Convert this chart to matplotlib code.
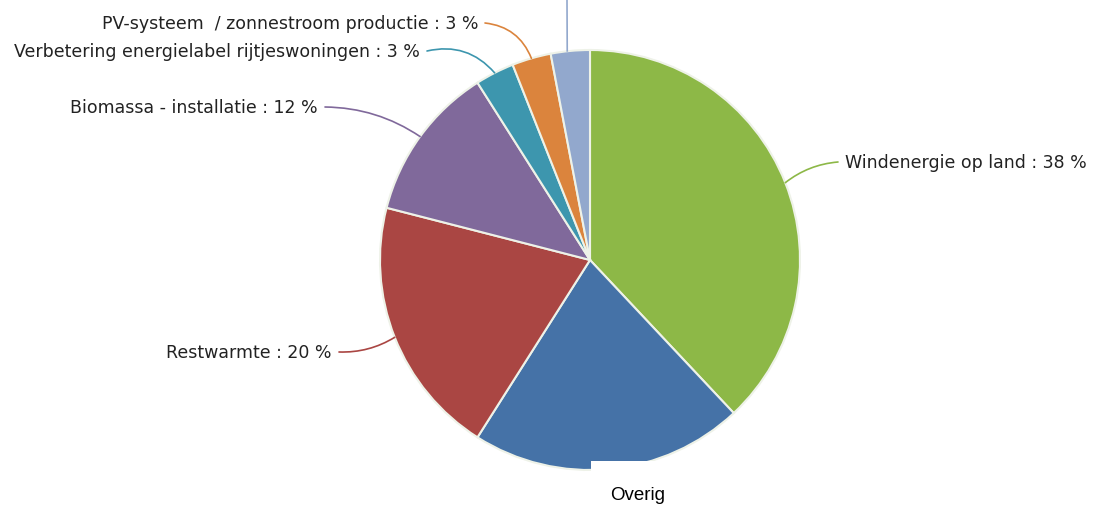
import numpy as np
import matplotlib.pyplot as plt
from matplotlib.patches import Rectangle

# slices, clockwise from 12 o'clock
labels = ["Windenergie op land", "", "Restwarmte", "Biomassa - installatie",
          "Verbetering energielabel rijtjeswoningen",
          "PV-systeem  / zonnestroom productie", ""]
values = [38, 21, 20, 12, 3, 3, 3]
colors = ["#8db847", "#4572a7", "#aa4643", "#80699b", "#3d96ae", "#db843d", "#92a8cd"]

W, H = 1093, 509
CX, CY, R = 590, H - 260, 210

# label text anchor (x, y in px from top), ha, leader curvature
LABEL_POS = {
    0: (845, 163, "left", 0.15),
    2: (332, 353, "right", 0.15),
    3: (318, 108, "right", -0.15),
    4: (420, 52, "right", -0.3),
    5: (478, 24, "right", -0.3),
    6: (567, 0, "right", 0.0),
}


def main():
    fig = plt.figure(figsize=(W / 100, H / 100), dpi=100)
    ax = fig.add_axes([0, 0, 1, 1])

    wedges, _ = ax.pie(values, colors=colors, startangle=90, counterclock=False,
                       center=(CX, CY), radius=R, frame=True,
                       wedgeprops=dict(edgecolor="#eef2e8", linewidth=1.5))
    ax.set_xlim(0, W)
    ax.set_ylim(0, H)
    ax.set_aspect("auto")
    ax.axis("off")

    for i, w in enumerate(wedges):
        if i not in LABEL_POS:
            continue
        tx, ty, ha, rad = LABEL_POS[i]
        mid = np.deg2rad((w.theta1 + w.theta2) / 2)
        px = CX + R * np.cos(mid)
        py = CY + R * np.sin(mid)
        if labels[i]:
            ax.text(tx, H - ty, f"{labels[i]} : {values[i]} %", ha=ha, va="center",
                    fontsize=12.5, color="#222222", family="DejaVu Sans")
            sx = tx + 7 if ha == "right" else tx - 7
            ax.annotate("", xy=(px, py), xytext=(sx, H - ty + 1),
                        arrowprops=dict(arrowstyle="-", color=w.get_facecolor(),
                                        lw=1.2, shrinkA=0, shrinkB=0,
                                        connectionstyle=f"arc3,rad={rad}"))
        else:
            ax.plot([px - 3, tx], [py, H - ty], color=w.get_facecolor(), lw=1.2)

    # white patch with "Overig" at the bottom
    ax.add_patch(Rectangle((591, 0), W - 591, H - 461, facecolor="white",
                           edgecolor="none", zorder=10))
    ax.text(610, H - 496, "Overig", fontsize=13.5, family="Liberation Sans",
            ha="left", va="center", zorder=11, color="black")

    fig.savefig("out.png", dpi=100)
    plt.close(fig)


if __name__ == "__main__":
    main()
